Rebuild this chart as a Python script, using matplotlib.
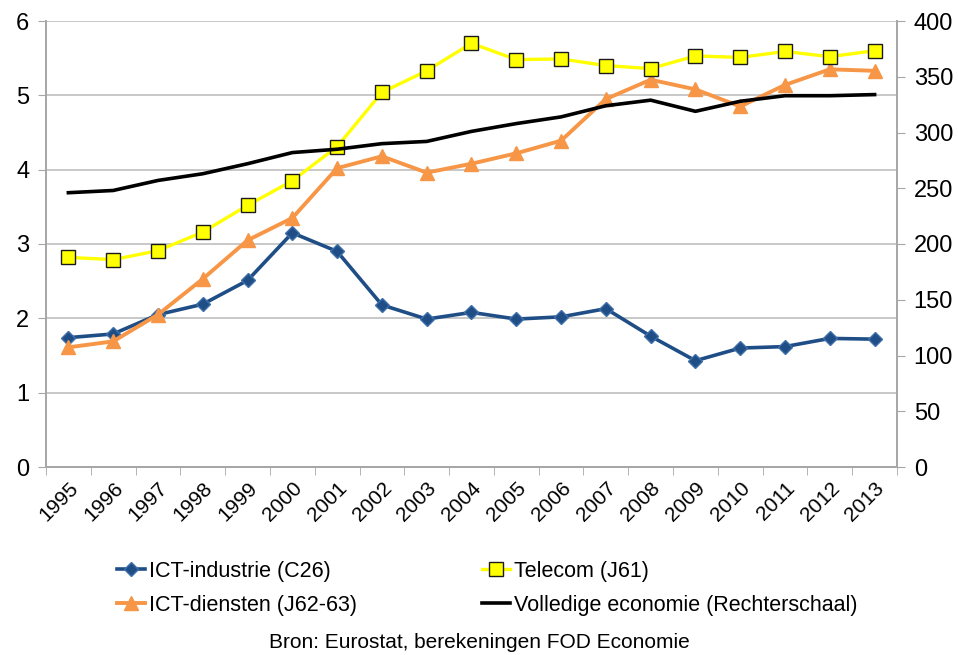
import numpy as np
import matplotlib
matplotlib.use("Agg")
import matplotlib.pyplot as plt

plt.rcParams['font.family'] = ['Liberation Sans Narrow', 'Liberation Sans', 'DejaVu Sans']

years = [str(y) for y in range(1995, 2014)]
ict_industrie = [1.74, 1.79, 2.05, 2.19, 2.51, 3.15, 2.90, 2.18, 1.99, 2.08,
                 1.99, 2.02, 2.13, 1.76, 1.43, 1.60, 1.62, 1.73, 1.72]
telecom = [2.82, 2.79, 2.91, 3.16, 3.52, 3.85, 4.31, 5.04, 5.33, 5.70,
           5.48, 5.49, 5.40, 5.36, 5.53, 5.51, 5.59, 5.52, 5.60]
ict_diensten = [1.61, 1.69, 2.05, 2.53, 3.05, 3.35, 4.02, 4.18, 3.96, 4.08,
                4.22, 4.39, 4.95, 5.21, 5.08, 4.85, 5.14, 5.35, 5.33]
volledige = [246, 248, 257, 263, 272, 282, 285, 290, 292, 301,
             308, 314, 324, 329, 319, 328, 333, 333, 334]

grey = '#A6A6A6'
x = np.arange(len(years))

fig = plt.figure(figsize=(9.58, 6.55), dpi=100)
ax = fig.add_axes([46/958, 1-467/655, 851/958, 446/655])
ax2 = ax.twinx()

l1, = ax.plot(x, ict_industrie, color='#1F4E86', lw=2.6, marker='D', ms=7,
              mfc='#1F4E86', mec='#3F6FAA', mew=1, label='ICT-industrie (C26)')
l2, = ax.plot(x, telecom, color='#FFFF00', lw=2.4, marker='s', ms=10,
              mfc='#FFFF00', mec='#1a1a1a', mew=1, label='Telecom (J61)', zorder=3)
l3, = ax.plot(x, ict_diensten, color='#F79646', lw=2.8, marker='^', ms=10,
              mfc='#F79646', mec='#F79646', label='ICT-diensten (J62-63)')
l4, = ax2.plot(x, volledige, color='black', lw=2.6,
               label='Volledige economie (Rechterschaal)')

ax.set_xlim(-0.5, len(years) - 0.5)
ax.set_ylim(0, 6)
ax2.set_ylim(0, 400)
ax.set_yticks(range(0, 7))
ax2.set_yticks(range(0, 401, 50))

ax.set_xticks(x)
ax.set_xticklabels(years, rotation=45, ha='right', rotation_mode='anchor', fontsize=15)
ax.set_xticks(np.arange(-0.5, len(years)), minor=True)
ax.tick_params(axis='x', which='major', length=0, pad=8)
ax.tick_params(axis='x', which='minor', length=6, color=grey)
ax.tick_params(axis='y', length=6, color=grey, labelsize=17, pad=6)
ax2.tick_params(axis='y', length=6, color=grey, labelsize=17, pad=6)

ax.grid(axis='y', color='#BFBFBF', lw=1.2)
ax.set_axisbelow(True)
for a in (ax, ax2):
    a.spines['top'].set_visible(False)
    for s in ('left', 'right', 'bottom'):
        a.spines[s].set_color(grey)
        a.spines[s].set_linewidth(1.2)

# legend fills column-wise, so order handles to get the two rows right
fig.legend(handles=[l1, l3, l2, l4], ncol=2, loc='upper left',
           bbox_to_anchor=(108/958, 1-552/655), frameon=False, fontsize=15.5,
           handlelength=1.3, handletextpad=0.2, columnspacing=5.8,
           labelspacing=0.6, borderaxespad=0)

fig.text(479/958, 1-643/655, 'Bron: Eurostat, berekeningen FOD Economie',
         ha='center', va='center', fontsize=15)

fig.savefig('out.png', dpi=100)
